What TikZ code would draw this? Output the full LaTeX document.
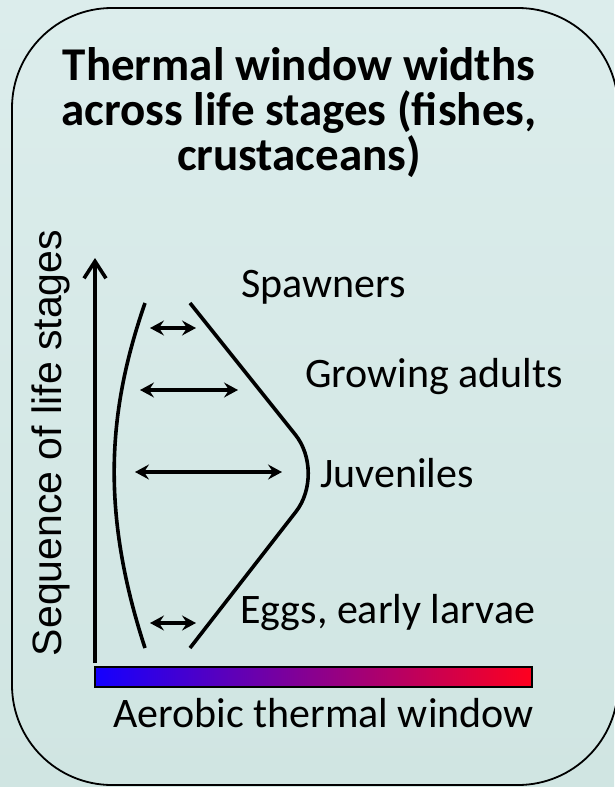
\documentclass[tikz,border=0pt]{standalone}
\usepackage{fontspec}
\setmainfont{Carlito}
\newfontfamily\ejefont{Liberation Sans}
\usetikzlibrary{positioning,arrows.meta}
\definecolor{fondoarriba}{RGB}{220,237,236}
\definecolor{fondomedio}{RGB}{236,245,245}
\definecolor{fondoabajo}{RGB}{208,229,226}
\definecolor{frio}{RGB}{20,0,255}
\definecolor{templado}{RGB}{165,0,215}
\definecolor{caliente}{RGB}{255,0,30}

\begin{document}
\begin{tikzpicture}[
    x=1pt, y=-1pt,
    marco/.style={
        draw,
        line width=1.8pt,
        rounded corners=100pt
    },
    titulo/.style={
        align=center,
        inner sep=0pt,
        font=\fontsize{47}{45}\selectfont\bfseries
    },
    etiqueta/.style={
        inner sep=0pt,
        font=\fontsize{42}{48}\selectfont
    },
    eje/.style={
        inner sep=0pt,
        font=\ejefont\fontsize{41}{46}\selectfont
    },
    curva/.style={line width=3.6pt},
    flecha/.style={-{Straight Barb[length=17pt,width=22pt]},line width=3.6pt},
    doble/.style={{Stealth[length=14pt,width=15pt,inset=5pt]}-{Stealth[length=14pt,width=15pt,inset=5pt]},line width=3.5pt}
]

\useasboundingbox (0,0) rectangle (614,787);
\shade[top color=fondoarriba, middle color=fondomedio, bottom color=fondoabajo] (0,0) rectangle (614,787);
\draw[marco] (12,8) rectangle (618,785);

\node[titulo, anchor=north] (titulo) at (299,47)
{Thermal window widths\\across life stages (fishes,\\crustaceans)};

\node[eje, rotate=90, anchor=base] (secuencia) at (61,443) {Sequence of life stages};
\draw[flecha] (95,663) -- (95,258);

\draw[curva] (145,303) .. controls (108,410) and (100,510) .. (145,648);
\draw[curva, rounded corners=49pt] (190,303) -- (326,473) -- (190,648);

\draw[doble] (150,328) -- (196,328);
\draw[doble] (140,390) -- (238,390);
\draw[doble] (135,472) -- (282,472);
\draw[doble] (150,623) -- (196,623);

\node[etiqueta, anchor=base west] (desovantes) at (241,297) {Spawners};
\node[etiqueta, anchor=base west] (adultos) at (305,387) {Growing adults};
\node[etiqueta, anchor=base west] (juveniles) at (320,487) {Juveniles};
\node[etiqueta, anchor=base west] (huevos) at (240,623) {Eggs, early larvae};

\shade[draw, line width=1.2pt, left color=frio, middle color=templado, right color=caliente] (95,667) rectangle (532,687);
\node[etiqueta, anchor=base] (ventana) at (323.5,727) {Aerobic thermal window};

\end{tikzpicture}
\end{document}
